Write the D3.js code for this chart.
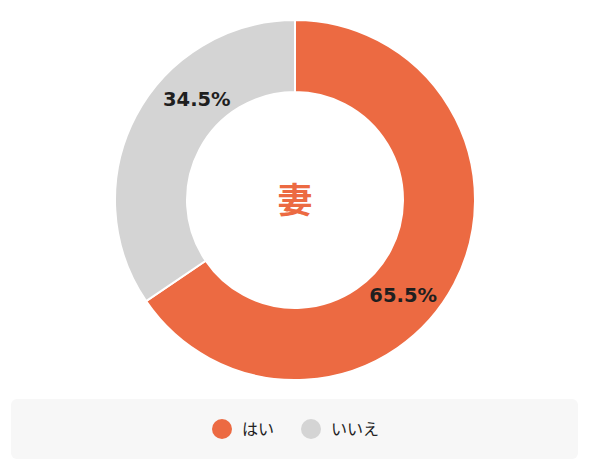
<!DOCTYPE html>
<html>
<head>
    <meta charset="utf-8">
    <style>
        body {
            margin: 0;
            background: white;
            font-family: 'Noto Sans CJK JP', 'Noto Sans', sans-serif;
        }
        svg {
            display: block;
        }
    </style>
</head>
<body>
    <svg id="chart" width="590" height="471"></svg>

<script src="https://d3js.org/d3.v7.min.js"></script>
<script>

    let categories = ["はい", "いいえ"]
    let values = [65.5, 34.5]
    let colors = ["#ec6a42", "#d4d4d4"]
    let centerLabel = "妻"

    let cx = 295, cy = 200
    let outerR = 180, innerR = 108
    let labelR = 142
    // labels sit a bit past the middle of each slice (clockwise), nudged right
    let labelShift = 15.5 * Math.PI / 180
    let labelNudge = [5, -3]

    let svg = d3.select("#chart")

    let color = d3.scaleOrdinal().domain(categories).range(colors)

    let data = categories.map((c, i) => ({ cat: c, value: values[i] }))

    let pie = d3.pie()
        .value(d => d.value)
        .sort(null)

    let arc = d3.arc()
        .innerRadius(innerR)
        .outerRadius(outerR)

    let g = svg.append("g")
        .attr("transform", `translate(${cx},${cy})`)

    let arcs = pie(data)

    g.selectAll("path")
        .data(arcs)
        .join("path")
        .attr("d", arc)
        .attr("fill", d => color(d.data.cat))
        .attr("stroke", "white")
        .attr("stroke-width", 2)

    g.selectAll("text.pct")
        .data(arcs)
        .join("text")
        .attr("class", "pct")
        .attr("transform", d => {
            let a = (d.startAngle + d.endAngle) / 2 + labelShift
            let x = labelR * Math.sin(a) + labelNudge[0]
            let y = -labelR * Math.cos(a) + labelNudge[1]
            return `translate(${x},${y})`
        })
        .attr("text-anchor", "middle")
        .attr("dy", "0.36em")
        .attr("font-family", "'DejaVu Sans', sans-serif")
        .attr("font-size", 19.5)
        .attr("font-weight", "bold")
        .attr("fill", "#1f1f1f")
        .text(d => d.data.value.toFixed(1) + "%")

    g.append("text")
        .attr("text-anchor", "middle")
        .attr("dy", "0.36em")
        .attr("font-size", 35)
        .attr("font-weight", "bold")
        .attr("fill", colors[0])
        .text(centerLabel)

    // legend
    svg.append("rect")
        .attr("x", 11)
        .attr("y", 399)
        .attr("width", 567)
        .attr("height", 60)
        .attr("rx", 6)
        .attr("fill", "#f7f7f7")

    let legendX = [222, 311]

    let legend = svg.append("g")
        .selectAll("g")
        .data(categories)
        .join("g")
        .attr("transform", (d, i) => `translate(${legendX[i]},429)`)

    legend.append("circle")
        .attr("r", 10)
        .attr("fill", d => color(d))

    legend.append("text")
        .attr("x", 20)
        .attr("dy", "0.35em")
        .attr("font-size", 16)
        .attr("fill", "#222")
        .text(d => d)

</script>
</body>
</html>
